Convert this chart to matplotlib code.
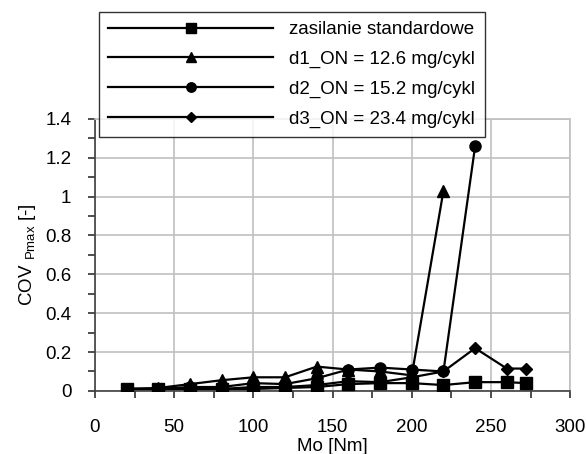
import numpy as np
import matplotlib.pyplot as plt
from matplotlib.ticker import MultipleLocator, FuncFormatter

plt.rcParams['font.family'] = ['Liberation Sans', 'DejaVu Sans']
plt.rcParams['font.size'] = 13.5

# data
mo_std = [20, 40, 60, 80, 100, 120, 140, 160, 180, 200, 220, 240, 260, 272]
cov_std = [0.01, 0.01, 0.01, 0.01, 0.01, 0.015, 0.02, 0.035, 0.04, 0.04, 0.03, 0.045, 0.045, 0.04]

mo_d1 = [20, 40, 60, 80, 100, 120, 140, 160, 180, 200, 220]
cov_d1 = [0.01, 0.015, 0.035, 0.055, 0.07, 0.07, 0.125, 0.11, 0.10, 0.08, 1.03]

mo_d2 = [20, 40, 60, 80, 100, 120, 140, 160, 180, 200, 220, 240]
cov_d2 = [0.01, 0.01, 0.02, 0.02, 0.04, 0.035, 0.065, 0.11, 0.12, 0.11, 0.10, 1.26]

mo_d3 = [20, 40, 60, 80, 100, 120, 140, 160, 180, 200, 220, 240, 260, 272]
cov_d3 = [0.01, 0.01, 0.01, 0.01, 0.02, 0.02, 0.03, 0.05, 0.045, 0.07, 0.10, 0.22, 0.115, 0.115]

labels = ['zasilanie standardowe', 'd1_ON = 12.6 mg/cykl',
          'd2_ON = 15.2 mg/cykl', 'd3_ON = 23.4 mg/cykl']

fig = plt.figure(figsize=(5.86, 4.54), dpi=100)
ax = fig.add_axes([0.162, 0.139, 0.811, 0.599])

h_std, = ax.plot(mo_std, cov_std, color='black', lw=1.6, marker='s', ms=8, zorder=6)
h_d1, = ax.plot(mo_d1, cov_d1, color='black', lw=1.6, marker='^', ms=8, zorder=4)
h_d2, = ax.plot(mo_d2, cov_d2, color='black', lw=1.6, marker='o', ms=8, zorder=5)
h_d3, = ax.plot(mo_d3, cov_d3, color='black', lw=1.6, marker='D', ms=6, zorder=3)

ax.set_xlim(0, 300)
ax.set_ylim(0, 1.4)
ax.xaxis.set_major_locator(MultipleLocator(50))
ax.xaxis.set_minor_locator(MultipleLocator(25))
ax.yaxis.set_major_locator(MultipleLocator(0.2))
ax.yaxis.set_minor_locator(MultipleLocator(0.1))
ax.yaxis.set_major_formatter(FuncFormatter(lambda v, p: f'{v:g}'))

ax.grid(True, which='major', color='#c0c0c0', lw=1.2, zorder=0)
ax.set_axisbelow(True)
for s in ['top', 'right']:
    ax.spines[s].set_color('#c0c0c0')
    ax.spines[s].set_linewidth(1.2)
for s in ['left', 'bottom']:
    ax.spines[s].set_color('#404040')
    ax.spines[s].set_linewidth(1.2)

ax.tick_params(which='both', direction='out', length=5, width=1.2, color='#303030')
ax.tick_params(axis='x', which='major', pad=15)
ax.tick_params(axis='y', which='major', pad=12)

ax.set_xlabel('Mo [Nm]', labelpad=2)
ax.set_ylabel(r'COV $_{\mathregular{Pmax}}$ [-]', labelpad=5)

leg = fig.legend([h_std, h_d1, h_d2, h_d3], labels,
                 loc='upper left', bbox_to_anchor=(99 / 586, 1 - 12 / 454),
                 frameon=True, fancybox=False, handlelength=8.8,
                 handletextpad=0.85, labelspacing=0.66, borderpad=0.5,
                 borderaxespad=0, markerscale=0.85)
leg.get_frame().set_edgecolor('black')
leg.get_frame().set_linewidth(1.0)

fig.savefig('out.png', dpi=100)
